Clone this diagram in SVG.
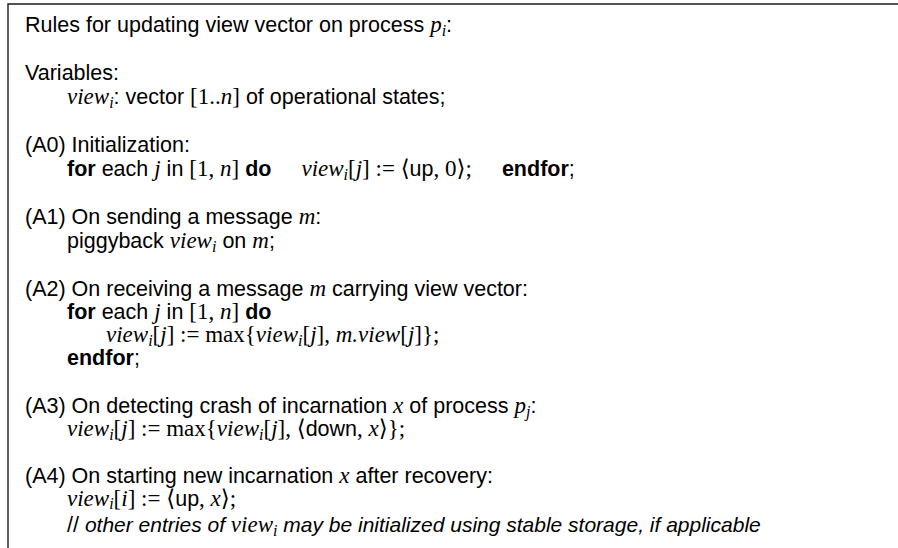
<svg xmlns="http://www.w3.org/2000/svg" width="898" height="548" viewBox="0 0 898 548" xml:space="preserve">
<style>
.t{font-family:"Liberation Sans",Arial,sans-serif;font-size:21.5px;fill:#000}
.b{font-weight:bold}
.m{font-family:"Liberation Serif","DejaVu Serif",serif;font-style:italic;font-size:23px}
.u{font-family:"Liberation Serif","DejaVu Serif",serif;font-style:normal;font-size:23px}
.s{font-size:16px}
.c{font-style:italic;font-size:21px}
.frame{fill:none;stroke:#1a1a1a;stroke-width:1.4}
</style>
<rect width="898" height="548" fill="#fff"/>
<path class="frame" d="M8,548 V4 H898"/>
<g id="title">
<text class="t" x="25" y="32">Rules for updating view vector on process <tspan class="m">p</tspan><tspan class="m s" dy="4">i</tspan><tspan dy="-4">:</tspan></text>
</g>
<g id="variables">
<text class="t" x="25" y="80">Variables:</text>
<text class="t" x="67" y="104"><tspan class="m">view</tspan><tspan class="m s" dy="4">i</tspan><tspan dy="-4">: vector </tspan><tspan class="u">[1..</tspan><tspan class="m">n</tspan><tspan class="u">]</tspan> of operational states;</text>
</g>
<g id="A0">
<text class="t" x="25" y="152">(A0) Initialization:</text>
<text class="t" x="67" y="176"><tspan class="b">for</tspan> each <tspan class="m">j</tspan> in <tspan class="u">[1, </tspan><tspan class="m">n</tspan><tspan class="u">]</tspan> <tspan class="b">do</tspan><tspan class="m" dx="30">view</tspan><tspan class="m s" dy="4">i</tspan><tspan class="u" dy="-4">[</tspan><tspan class="m">j</tspan><tspan class="u">] := ⟨</tspan>up<tspan class="u">, 0⟩;</tspan><tspan class="b" dx="30">endfor</tspan>;</text>
</g>
<g id="A1">
<text class="t" x="25" y="224">(A1) On sending a message <tspan class="m">m</tspan>:</text>
<text class="t" x="67" y="248">piggyback <tspan class="m">view</tspan><tspan class="m s" dy="4">i</tspan><tspan dy="-4"> on </tspan><tspan class="m">m</tspan>;</text>
</g>
<g id="A2">
<text class="t" x="25" y="296">(A2) On receiving a message <tspan class="m">m</tspan> carrying view vector:</text>
<text class="t" x="67" y="319"><tspan class="b">for</tspan> each <tspan class="m">j</tspan> in <tspan class="u">[1, </tspan><tspan class="m">n</tspan><tspan class="u">]</tspan> <tspan class="b">do</tspan></text>
<text class="t" x="106" y="342"><tspan class="m">view</tspan><tspan class="m s" dy="4">i</tspan><tspan class="u" dy="-4">[</tspan><tspan class="m">j</tspan><tspan class="u">] := max{</tspan><tspan class="m">view</tspan><tspan class="m s" dy="4">i</tspan><tspan class="u" dy="-4">[</tspan><tspan class="m">j</tspan><tspan class="u">], </tspan><tspan class="m">m.view</tspan><tspan class="u">[</tspan><tspan class="m">j</tspan><tspan class="u">]};</tspan></text>
<text class="t" x="67" y="365"><tspan class="b">endfor</tspan>;</text>
</g>
<g id="A3">
<text class="t" x="25" y="413">(A3) On detecting crash of incarnation <tspan class="m">x</tspan> of process <tspan class="m">p</tspan><tspan class="m s" dy="4">j</tspan><tspan dy="-4">:</tspan></text>
<text class="t" x="67" y="436"><tspan class="m">view</tspan><tspan class="m s" dy="4">i</tspan><tspan class="u" dy="-4">[</tspan><tspan class="m">j</tspan><tspan class="u">] := max{</tspan><tspan class="m">view</tspan><tspan class="m s" dy="4">i</tspan><tspan class="u" dy="-4">[</tspan><tspan class="m">j</tspan><tspan class="u">], ⟨</tspan>down<tspan class="u">, </tspan><tspan class="m">x</tspan><tspan class="u">⟩};</tspan></text>
</g>
<g id="A4">
<text class="t" x="25" y="483">(A4) On starting new incarnation <tspan class="m">x</tspan> after recovery:</text>
<text class="t" x="67" y="506"><tspan class="m">view</tspan><tspan class="m s" dy="3">i</tspan><tspan class="u" dy="-3">[</tspan><tspan class="m">i</tspan><tspan class="u">] := ⟨</tspan>up<tspan class="u">, </tspan><tspan class="m">x</tspan><tspan class="u">⟩;</tspan></text>
<text class="t" x="67" y="532">// <tspan class="c">other entries of </tspan><tspan class="m">view</tspan><tspan class="m s" dy="4">i</tspan><tspan class="c" dy="-4"> may be initialized using stable storage, if applicable</tspan></text>
</g>
</svg>
